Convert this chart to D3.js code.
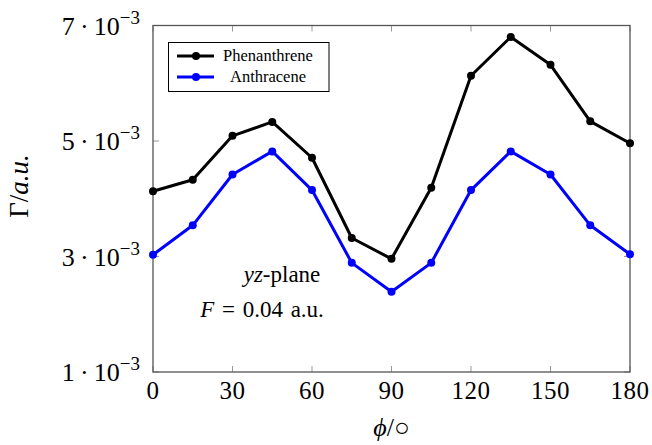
<!DOCTYPE html>
<html lang="en">
<head>
<meta charset="utf-8">
<title>Gamma vs phi</title>
<script src="https://cdn.jsdelivr.net/npm/d3@7"></script>
<style>
  body { margin: 0; background: #fff; }
  text { font-family: "Liberation Serif", "DejaVu Serif", serif; fill: #000; }
</style>
</head>
<body>
<script>
// data
var phi = [0, 15, 30, 45, 60, 75, 90, 105, 120, 135, 150, 165, 180];
var phenanthrene = [4.13e-3, 4.33e-3, 5.09e-3, 5.33e-3, 4.71e-3, 3.32e-3, 2.96e-3, 4.19e-3, 6.13e-3, 6.80e-3, 6.32e-3, 5.34e-3, 4.96e-3];
var anthracene = [3.03e-3, 3.54e-3, 4.42e-3, 4.82e-3, 4.15e-3, 2.89e-3, 2.39e-3, 2.89e-3, 4.15e-3, 4.82e-3, 4.42e-3, 3.54e-3, 3.04e-3];
var xTicks = [0, 30, 60, 90, 120, 150, 180];
var yTicks = [1e-3, 3e-3, 5e-3, 7e-3];
var seriesNames = ["Phenanthrene", "Anthracene"];
var seriesColors = ["#000000", "#0000ff"];

var W = 652, H = 445;
var plot = {left: 153, right: 630, top: 25.5, bottom: 372};

var svg = d3.select("body").append("svg")
    .attr("width", W).attr("height", H);

var x = d3.scaleLinear().domain([0, 180]).range([plot.left, plot.right]);
var y = d3.scaleLinear().domain([1e-3, 7e-3]).range([plot.bottom, plot.top]);

// ticks (inside, mirrored)
var tickG = svg.append("g").attr("stroke", "#999").attr("stroke-width", 1);
xTicks.forEach(function(t) {
  tickG.append("line").attr("x1", x(t)).attr("x2", x(t)).attr("y1", plot.bottom).attr("y2", plot.bottom - 6);
  tickG.append("line").attr("x1", x(t)).attr("x2", x(t)).attr("y1", plot.top).attr("y2", plot.top + 6);
});
yTicks.forEach(function(t) {
  tickG.append("line").attr("x1", plot.left).attr("x2", plot.left + 6).attr("y1", y(t)).attr("y2", y(t));
  tickG.append("line").attr("x1", plot.right).attr("x2", plot.right - 6).attr("y1", y(t)).attr("y2", y(t));
});

// frame
svg.append("rect")
  .attr("x", plot.left).attr("y", plot.top)
  .attr("width", plot.right - plot.left).attr("height", plot.bottom - plot.top)
  .attr("fill", "none").attr("stroke", "#555").attr("stroke-width", 1.3);

// x tick labels
svg.append("g").selectAll("text").data(xTicks).enter().append("text")
  .attr("x", function(d) { return x(d); })
  .attr("y", plot.bottom + 27)
  .attr("text-anchor", "middle")
  .attr("font-size", 25)
  .attr("letter-spacing", 0.5)
  .text(function(d) { return d; });

// y tick labels  k · 10^-3
var yl = svg.append("g").selectAll("text").data(yTicks).enter().append("text")
  .attr("x", 140)
  .attr("y", function(d) { return y(d) + 9; })
  .attr("text-anchor", "end")
  .attr("font-size", 26);
yl.append("tspan").text(function(d) { return Math.round(d * 1000) + "\u2009\u00b7\u200910"; });
yl.append("tspan").attr("dy", -11).attr("font-size", 19).text("\u22123");

// axis titles
svg.append("text")
  .attr("transform", "translate(28," + 186 + ") rotate(-90)")
  .attr("text-anchor", "middle")
  .attr("font-size", 27)
  .html('\u0393/<tspan font-style="italic">a.u.</tspan>');

svg.append("text")
  .attr("x", (plot.left + plot.right) / 2).attr("y", 436)
  .attr("text-anchor", "middle")
  .attr("font-size", 26)
  .html('<tspan font-style="italic">\u03d5</tspan>/\u25cb');

// annotation
svg.append("text")
  .attr("x", 282).attr("y", 282)
  .attr("text-anchor", "middle")
  .attr("font-size", 23)
  .html('<tspan font-style="italic">yz</tspan>-plane');
svg.append("text")
  .attr("x", 262).attr("y", 317)
  .attr("text-anchor", "middle")
  .attr("font-size", 23)
  .attr("word-spacing", 2)
  .html('<tspan font-style="italic">F</tspan> = 0.04 a.u.');

// series
var series = [phenanthrene, anthracene];
var line = d3.line()
  .x(function(d, i) { return x(phi[i]); })
  .y(function(d) { return y(d); });

series.forEach(function(s, k) {
  svg.append("path")
    .datum(s)
    .attr("d", line)
    .attr("fill", "none")
    .attr("stroke", seriesColors[k])
    .attr("stroke-width", 3)
    .attr("stroke-linejoin", "round");
  svg.append("g").selectAll("circle").data(s).enter().append("circle")
    .attr("cx", function(d, i) { return x(phi[i]); })
    .attr("cy", function(d) { return y(d); })
    .attr("r", 4)
    .attr("fill", seriesColors[k]);
});

// legend
var lg = svg.append("g");
lg.append("rect")
  .attr("x", 168.5).attr("y", 42.5).attr("width", 160.5).attr("height", 49)
  .attr("fill", "#fff").attr("stroke", "#000").attr("stroke-width", 1);
seriesNames.forEach(function(n, k) {
  var yy = 56 + k * 21;
  lg.append("line").attr("x1", 177).attr("x2", 214).attr("y1", yy).attr("y2", yy)
    .attr("stroke", seriesColors[k]).attr("stroke-width", 3);
  lg.append("circle").attr("cx", 196).attr("cy", yy).attr("r", 4).attr("fill", seriesColors[k]);
  lg.append("text").attr("x", 268).attr("y", yy + 5)
    .attr("text-anchor", "middle").attr("font-size", 16.5).text(n);
});
</script>
</body>
</html>
